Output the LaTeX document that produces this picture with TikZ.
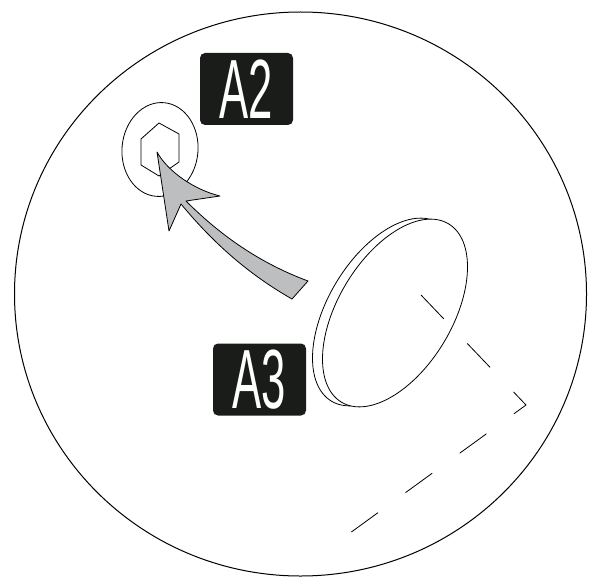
\documentclass[tikz,border=0pt]{standalone}
\usepackage{fontspec}
\usepackage{xcolor}
\usetikzlibrary{positioning, shapes.geometric}
\newfontfamily\tagfont[FakeStretch=0.52]{Liberation Sans}
\definecolor{tagblack}{HTML}{1A1C1A}
\definecolor{arrowgray}{HTML}{BCBEC0}

\begin{document}
\begin{tikzpicture}[x=1pt, y=-1pt, line join=round,
    tagbox/.style={fill=tagblack, text=white, rounded corners=5pt, minimum width=93pt, minimum height=72pt, inner sep=0pt, font=\tagfont\fontsize{84pt}{84pt}\selectfont},
    thinline/.style={draw, line width=0.8pt},
    disc/.style={thinline, ellipse, fill=white, inner sep=0pt, minimum width=208pt, minimum height=114pt, rotate=59}]
    \useasboundingbox (0,0) rectangle (601,580);
    \node[draw, line width=1pt, ellipse, inner sep=0pt, minimum width=572pt, minimum height=564pt] (lens) at (300.5,294) {};
    \node[thinline, ellipse, inner sep=0pt, minimum width=94pt, minimum height=76pt, rotate=85] (ring) at (160,149.5) {};
    \draw[thinline] (159,123) -- (179,134) -- (179,162) -- (159,176) -- (141,165) -- (141,139) -- cycle;
    \draw[line width=0.8pt, fill=arrowgray] (157,152) .. controls (168,172) and (195,190) .. (220,196) -- (186,201)
      .. controls (225,240) and (265,265) .. (308,281) -- (292,299)
      .. controls (250,275) and (215,245) .. (181,204) -- (169,231) -- cycle;
    \node[disc] (discback) at (385,312) {};
    \node[disc] (discfront) at (395,313) {};
    \node[tagbox] (A2) at (246.5,89) {A2};
    \node[tagbox] (A3) at (259.5,379.5) {A3};
    \coordinate (axisstart) at (421,295);
    \coordinate (axisbend) at (526,405);
    \coordinate (axisend) at (350,533);
    \draw[line width=0.8pt, dash pattern=on 33pt off 34pt] (axisstart) -- (axisbend) -- (axisend);
\end{tikzpicture}
\end{document}
